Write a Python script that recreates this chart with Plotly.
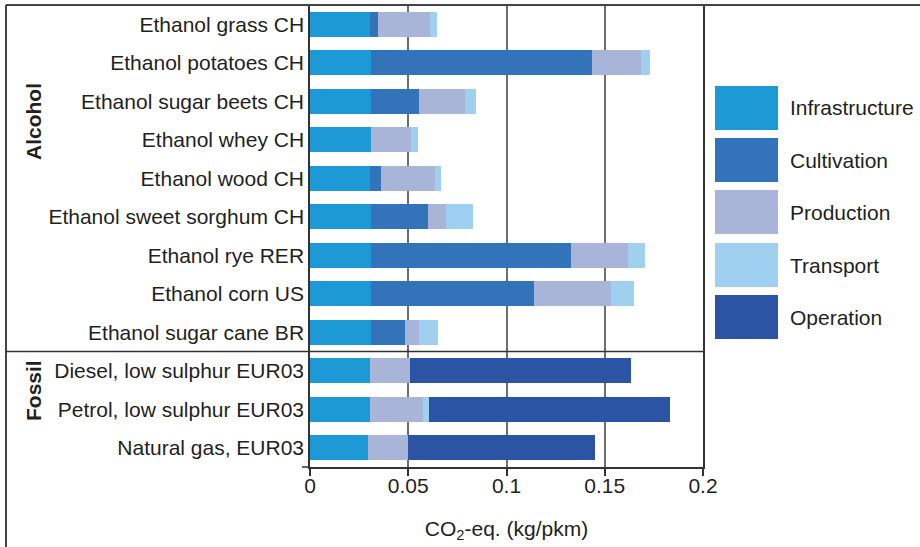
import plotly.graph_objects as go

categories = [
    "Ethanol grass CH", "Ethanol potatoes CH", "Ethanol sugar beets CH",
    "Ethanol whey CH", "Ethanol wood CH", "Ethanol sweet sorghum CH",
    "Ethanol rye RER", "Ethanol corn US", "Ethanol sugar cane BR",
    "Diesel, low sulphur EUR03", "Petrol, low sulphur EUR03", "Natural gas, EUR03",
]
infrastructure = [0.0305, 0.031, 0.031, 0.031, 0.0305, 0.031, 0.031, 0.031, 0.031, 0.0305, 0.0305, 0.0295]
cultivation    = [0.0041, 0.1124, 0.0244, 0.0, 0.0056, 0.0290, 0.1018, 0.0829, 0.0173, 0.0, 0.0, 0.0]
production     = [0.0264, 0.0250, 0.0234, 0.0204, 0.0275, 0.0092, 0.0289, 0.0392, 0.0071, 0.0204, 0.0270, 0.0203]
transport      = [0.0036, 0.0046, 0.0056, 0.0035, 0.0030, 0.0137, 0.0087, 0.0117, 0.0097, 0.0, 0.0030, 0.0]
operation      = [0.0, 0.0, 0.0, 0.0, 0.0, 0.0, 0.0, 0.0, 0.0, 0.1124, 0.1226, 0.0952]

series_names = ["Infrastructure", "Cultivation", "Production", "Transport", "Operation"]
series_values = [infrastructure, cultivation, production, transport, operation]
colors = ["#1D9AD6", "#3373B9", "#A9B4D9", "#A0D0F0", "#2B55A4"]

x_ticks = [0, 0.05, 0.1, 0.15, 0.2]
x_tick_labels = ["0", "0.05", "0.1", "0.15", "0.2"]

W, H = 920, 547
L, R, T, B = 310, 217, 5, 80
pw, ph = W - L - R, H - T - B

def px(x):
    return (x - L) / pw

def py(y):
    return (H - B - y) / ph

FONT = "Liberation Sans, Arial, Helvetica, sans-serif"
TXT = "#231f20"
FS = 21

fig = go.Figure()
for name, vals, col in zip(series_names, series_values, colors):
    fig.add_trace(go.Bar(
        y=categories, x=vals, name=name, orientation="h",
        marker=dict(color=col, line=dict(width=0)), showlegend=False,
    ))

shapes = []
annotations = []
# legend swatches
leg_y = [108, 160, 212, 265, 317]
for name, col, yc in zip(series_names, colors, leg_y):
    shapes.append(dict(type="rect", xref="paper", yref="paper",
                       x0=px(715), x1=px(778), y0=py(yc + 22), y1=py(yc - 22),
                       fillcolor=col, line=dict(width=0)))
    annotations.append(dict(xref="paper", yref="paper", x=px(788), y=py(yc),
                            text=name, showarrow=False, xanchor="left", yanchor="middle",
                            font=dict(size=FS, color=TXT, family=FONT)))

# outer frame
frame_col = "#444444"
shapes.append(dict(type="line", xref="paper", yref="paper", x0=px(6), x1=px(920),
                   y0=py(5), y1=py(5), line=dict(color=frame_col, width=2)))
shapes.append(dict(type="line", xref="paper", yref="paper", x0=px(6), x1=px(6),
                   y0=py(5), y1=py(548), line=dict(color=frame_col, width=2)))
# group separator
shapes.append(dict(type="line", xref="paper", yref="y", x0=px(6), x1=1,
                   y0=8.5, y1=8.5, line=dict(color="#333333", width=1.5)))
# small axis extension on the left
shapes.append(dict(type="line", xref="paper", yref="paper", x0=px(302), x1=0,
                   y0=0, y1=0, line=dict(color="#333333", width=1.5)))

annotations.append(dict(xref="paper", yref="paper", x=px(33), y=py(122), text="<b>Alcohol</b>",
                        textangle=-90, showarrow=False, xanchor="center", yanchor="middle",
                        font=dict(size=FS, color=TXT, family=FONT)))
annotations.append(dict(xref="paper", yref="paper", x=px(33), y=py(391), text="<b>Fossil</b>",
                        textangle=-90, showarrow=False, xanchor="center", yanchor="middle",
                        font=dict(size=FS, color=TXT, family=FONT)))

fig.update_layout(
    width=W, height=H, margin=dict(l=L, r=R, t=T, b=B),
    barmode="stack", bargap=0.35,
    paper_bgcolor="white", plot_bgcolor="white",
    font=dict(family=FONT, size=FS, color=TXT),
    shapes=shapes, annotations=annotations,
    xaxis=dict(range=[0, 0.2], tickvals=x_ticks, ticktext=x_tick_labels,
               showgrid=True, gridcolor="#6e6e6e", gridwidth=2,
               showline=True, linecolor="#333333", linewidth=1.5,
               ticks="outside", ticklen=7, tickcolor="#333333", tickwidth=1.5,
               ticklabelstandoff=-8,
               tickfont=dict(size=FS, color=TXT),
               title=dict(text="CO<sub>2</sub>-eq. (kg/pkm)", font=dict(size=FS, color=TXT), standoff=25),
               zeroline=False, fixedrange=True),
    yaxis=dict(categoryorder="array", categoryarray=categories, autorange="reversed",
               showline=True, mirror=True, linecolor="#333333", linewidth=1.5,
               ticks="", showgrid=False, tickfont=dict(size=FS, color=TXT),
               fixedrange=True),
)

fig.write_html("out.html", config={"displayModeBar": False},
               post_script="document.body.style.margin='0';document.body.style.padding='0';")
